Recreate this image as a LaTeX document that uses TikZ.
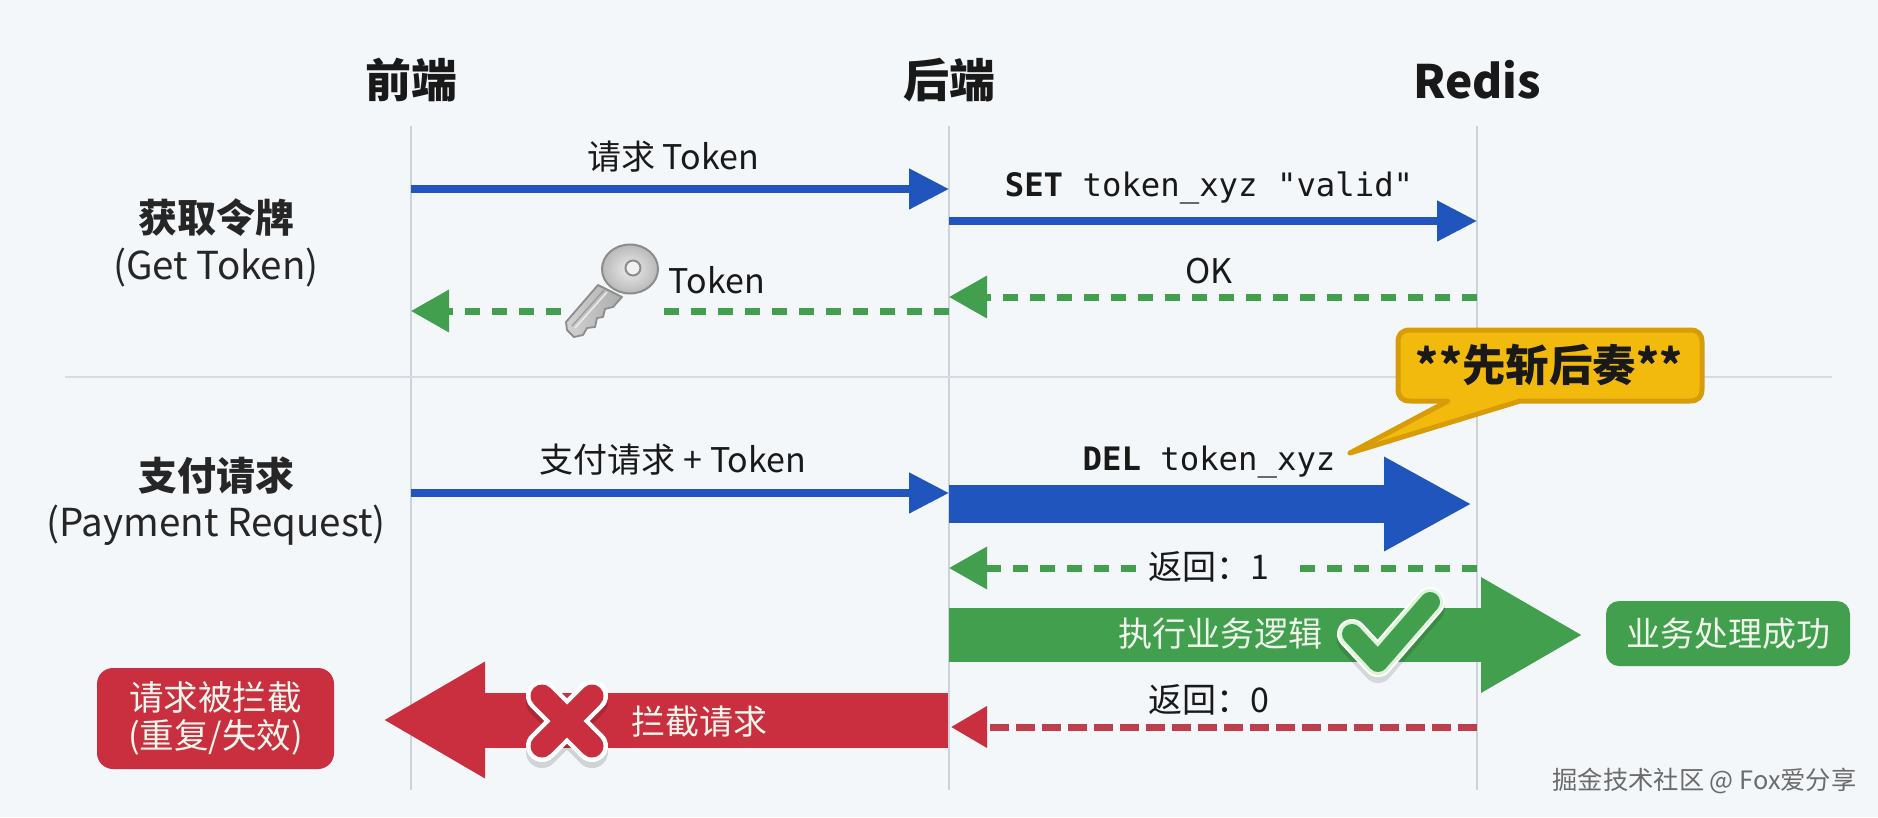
\documentclass[tikz,border=0pt]{standalone}
\usepackage{fontspec}
\setmainfont{Noto Sans CJK SC}
\newfontfamily\monof{DejaVu Sans Mono}
\usetikzlibrary{arrows.meta,calc}
\definecolor{bgc}{HTML}{F3F7FA}
\definecolor{lifec}{HTML}{CDD3DB}
\definecolor{blueA}{HTML}{1F55BC}
\definecolor{greenA}{HTML}{429F4E}
\definecolor{redA}{HTML}{C92F3E}
\definecolor{redD}{HTML}{BE3E4E}
\definecolor{goldA}{HTML}{F3BA0E}
\definecolor{goldB}{HTML}{D79C08}
\definecolor{softw}{HTML}{F0F6EC}
\definecolor{rimg}{HTML}{DDF4D9}
\newcommand{\fs}[1]{\fontsize{#1}{#1}\selectfont}
\tikzset{
  x=1pt,y=-1pt,
  lifeline/.style={draw=lifec,line width=1.6pt},
  head/.style={font=\fs{46}\bfseries,text=black!90,inner sep=0pt},
  lane/.style={font=\fs{38.5},text=black!85,inner sep=0pt,align=center,text depth=0pt},
  msg/.style={font=\fs{34},text=black!90,inner sep=0pt},
  code/.style={font=\fs{32.3}\monof,text=black!90,inner sep=0pt},
  wtxt/.style={font=\fs{34},text=softw,inner sep=0pt,align=center},
  thinb/.style={draw=blueA,line width=8pt,-{Triangle[length=40pt,width=39pt]}},
  dashg/.style={draw=greenA,line width=7pt,dash pattern=on 15pt off 12pt},
  dashgh/.style={dashg,-{Triangle[length=38pt,width=41pt]}},
  dashrh/.style={draw=redD,line width=7pt,dash pattern=on 19pt off 7pt,-{Triangle[length=36pt,width=40pt,color=redA,fill=redA]}},
  statebox/.style={rounded corners=13pt,inner sep=0pt,minimum height=65pt},
}
\begin{document}
\begin{tikzpicture}
\useasboundingbox (0,0) rectangle (1878,817);
\fill[bgc] (0,0) rectangle (1878,817);

% headers and lifelines
\node[head] (hf) at (411,80) {前端};
\node[head] (hb) at (949,80) {后端};
\node[head] (hr) at (1477,80) {Redis};
\coordinate (ft) at (411,126); \coordinate (fb) at (411,790);
\coordinate (bt) at (949,126); \coordinate (bb) at (949,790);
\coordinate (rt) at (1477,126); \coordinate (rb) at (1477,790);
\draw[lifeline] (ft) -- (fb);
\draw[lifeline] (bt) -- (bb);
\draw[lifeline] (rt) -- (rb);
\coordinate (dl) at (65,377); \coordinate (dr) at (1832,377);
\draw[draw=lifec!80,line width=2pt] (dl) -- (dr);

% lane labels
\node[lane,font=\fs{39}\bfseries] (l1) at (216,216) {获取令牌};
\node[lane] (l1b) at (216,264) {(Get Token)};
\node[lane,font=\fs{39}\bfseries] (l2) at (216,474) {支付请求};
\node[lane] (l2b) at (216,521) {(Payment Request)};

% get token
\coordinate (a1) at (411,189); \coordinate (a2) at (949,189);
\draw[thinb] (a1) -- (a2);
\node[msg] (m1) at (673,157) {请求 Token};
\coordinate (b1) at (949,221); \coordinate (b2) at (1477,221);
\draw[thinb] (b1) -- (b2);
\node[code] (m2) at (1209,188) {\textbf{SET} token\_xyz "valid"};
\coordinate (c1) at (1477,297); \coordinate (c2) at (949,297);
\draw[dashgh] (c1) -- (c2);
\node[msg] (m3) at (1209,271) {OK};
\coordinate (d0) at (949,311); \coordinate (d1) at (662,311);
\coordinate (d2) at (561,311); \coordinate (d3) at (411,311);
\draw[dashg] (d0) -- (d1);
\draw[dashgh] (d2) -- (d3);
\node[msg] (m4) at (717,280) {Token};

% key
\shade[left color=gray!35,right color=gray!65,draw=gray!90,line width=1.8pt,line join=round]
  (598,285) -- (566,322) -- (567,330) -- (574,337) -- (583,335) -- (587,328) -- (595,327) -- (597,318)
  -- (603,317) -- (605,309) -- (613,307) -- (622,297) -- cycle;
\draw[gray!80,line width=1.2pt] (572,326) -- (604,290);
\draw[white!85!gray,line width=1.5pt] (575,328) -- (607,292);
\shade[inner color=gray!15,outer color=gray!55,draw=gray!90,line width=2pt] (630,269) circle[x radius=28,y radius=24.5];
\fill[white!90!gray,draw=gray!90,line width=2pt] (633,268) circle[radius=7.5];

% callout
\coordinate (ctip) at (1350,453);
\filldraw[fill=goldA,draw=goldB,line width=5pt,line join=round]
  (1410,330) -- (1690,330) .. controls (1698,330) and (1702,334) .. (1702,342)
  -- (1702,389) .. controls (1702,397) and (1698,401) .. (1690,401)
  -- (1520,401) -- (ctip) -- (1448,401) -- (1410,401)
  .. controls (1402,401) and (1398,397) .. (1398,389)
  -- (1398,342) .. controls (1398,334) and (1402,330) .. (1410,330) -- cycle;
\node[font=\fs{43.5}\bfseries,text=black!90,inner sep=0pt] (call) at (1549,365) {**先斩后奏**};

% payment
\coordinate (e1) at (411,493); \coordinate (e2) at (949,493);
\draw[thinb] (e1) -- (e2);
\node[msg] (m5) at (673,460) {支付请求 + Token};
\coordinate (f1) at (949,504); \coordinate (f2) at (1472,504);
\draw[draw=blueA,line width=38pt,-{Triangle[length=88pt,width=88pt]}] (f1) -- (f2);
\node[code] (m6) at (1209,462) {\textbf{DEL} token\_xyz};
\coordinate (g1) at (1477,568); \coordinate (g2) at (1299,568);
\coordinate (g3) at (1136,568); \coordinate (g4) at (949,568);
\draw[dashg] (g1) -- (g2);
\draw[dashgh] (g3) -- (g4);
\node[msg] (m7) at (1209,567) {返回：1};
\coordinate (h1) at (949,635); \coordinate (h2) at (1583,635);
\draw[draw=greenA,line width=54pt,-{Triangle[length=102pt,width=108pt]}] (h1) -- (h2);
\node[wtxt] (m8) at (1220,634) {执行业务逻辑};
\node[msg] (m9) at (1209,700) {返回：0};
\coordinate (i1) at (1477,727); \coordinate (i2) at (951,727);
\draw[dashrh] (i1) -- (i2);
\coordinate (j1) at (948,720); \coordinate (j2) at (383,720);
\draw[draw=redA,line width=55pt,-{Triangle[length=102pt,width=109pt]}] (j1) -- (j2);
\node[wtxt] (m10) at (699,722) {拦截请求};

% outcome boxes
\node[statebox,fill=greenA,minimum width=244pt,text=softw,font=\fs{34}] (ok) at (1728,633.5) {业务处理成功};
\node[statebox,fill=redA,minimum width=237pt,minimum height=101pt,wtxt,rounded corners=16pt,font=\fs{34.5}] (no) at (215.5,718.5) {请求被拦截\\[4pt](重复/失效)};

% check mark
\begin{scope}[line cap=round,line join=round]
\draw[black,opacity=.12,line width=30pt] (1352,640) -- (1378,668) -- (1430,608);
\draw[white,line width=30pt] (1352,634) -- (1378,662) -- (1430,602);
\draw[rimg,line width=26pt] (1352,634) -- (1378,662) -- (1430,602);
\draw[greenA,line width=20pt] (1352,634) -- (1378,662) -- (1430,602);
\end{scope}

% cross mark
\begin{scope}[line cap=round]
\draw[black,opacity=.14,line width=32pt] (542,702) -- (592,752) (592,702) -- (542,752);
\draw[white,line width=32pt] (542,696) -- (592,746) (592,696) -- (542,746);
\draw[redA,line width=23pt] (542,696) -- (592,746) (592,696) -- (542,746);
\end{scope}

% watermark
\node[font=\fs{25.3},text=black!58,inner sep=0pt] (wm) at (1704.5,780.5) {掘金技术社区 @ Fox爱分享};
\end{tikzpicture}
\end{document}
